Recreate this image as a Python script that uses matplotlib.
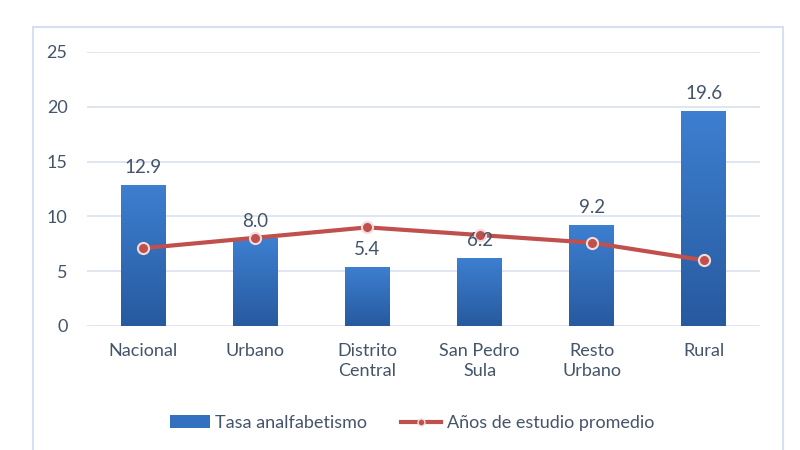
import numpy as np
import matplotlib.pyplot as plt
from matplotlib.patches import Rectangle
from matplotlib.lines import Line2D
from matplotlib.colors import LinearSegmentedColormap

categorias = ["Nacional", "Urbano", "Distrito\nCentral", "San Pedro\nSula", "Resto\nUrbano", "Rural"]
tasa_analfabetismo = [12.9, 8.0, 5.4, 6.2, 9.2, 19.6]
anios_estudio = [7.1, 8.05, 9.0, 8.3, 7.6, 6.0]
yticks = [0, 5, 10, 15, 20, 25]

text_color = "#44546a"
bar_top = "#3d7fd0"
bar_bottom = "#275a9f"
line_color = "#c0504d"

plt.rcParams["font.family"] = ["Lato", "DejaVu Sans"]

fig = plt.figure(figsize=(8, 4.5), dpi=100)
fig.patches.append(Rectangle((33 / 800, -0.01), 750 / 800, 0.95, transform=fig.transFigure,
                             fill=False, edgecolor="#d6e0ef", linewidth=1.5))
ax = fig.add_axes([87 / 800, 124 / 450, 673 / 800, 274 / 450])

x = np.arange(len(categorias))
bars = ax.bar(x, tasa_analfabetismo, width=0.4, color=bar_top, zorder=2,
              label="Tasa analfabetismo")

# degradado vertical en cada barra
cmap = LinearSegmentedColormap.from_list("azul", [bar_bottom, bar_top])
grad = np.linspace(0, 1, 256).reshape(-1, 1)
for b in bars:
    bx, by, bw, bh = b.get_x(), b.get_y(), b.get_width(), b.get_height()
    im = ax.imshow(grad, cmap=cmap, origin="lower", aspect="auto",
                   extent=[bx, bx + bw, by, by + bh], zorder=2.1)
    im.set_clip_path(b)

for xi, v in zip(x, tasa_analfabetismo):
    ax.text(xi, v + 0.8, f"{v:.1f}", ha="center", va="bottom", fontsize=13.5, color=text_color, zorder=4)

ax.plot(x, anios_estudio, color=line_color, linewidth=3, marker="o", markersize=8,
        markerfacecolor=line_color, markeredgecolor="#f2dcdb", markeredgewidth=1.5, zorder=3,
        label="Años de estudio promedio")

ax.set_xlim(-0.5, len(categorias) - 0.5)
ax.set_ylim(0, 25)
ax.set_yticks(yticks)
ax.set_xticks(x)
ax.set_xticklabels(categorias, linespacing=1.35)
ax.grid(axis="y", color="#d9e2f0", linewidth=1.2, zorder=0)
ax.set_axisbelow(True)
for s in ax.spines.values():
    s.set_visible(False)
ax.tick_params(length=0, labelsize=13, colors=text_color, pad=12)
ax.tick_params(axis="y", pad=14)
for lbl in ax.get_yticklabels():
    lbl.set_ha("right")

handles = [Rectangle((0, 0), 1, 1, facecolor="#3470c0"),
           Line2D([0], [0], color=line_color, linewidth=3, marker="o", markersize=5,
                  markerfacecolor=line_color, markeredgecolor="#f2dcdb")]
fig.legend(handles, ["Tasa analfabetismo", "Años de estudio promedio"], loc="center",
           bbox_to_anchor=(412 / 800, 1 - 423 / 450), ncol=2, frameon=False, fontsize=13,
           labelcolor=text_color, handlelength=2.2, handletextpad=0.3, columnspacing=1.9)

fig.savefig("out.png", dpi=100)
